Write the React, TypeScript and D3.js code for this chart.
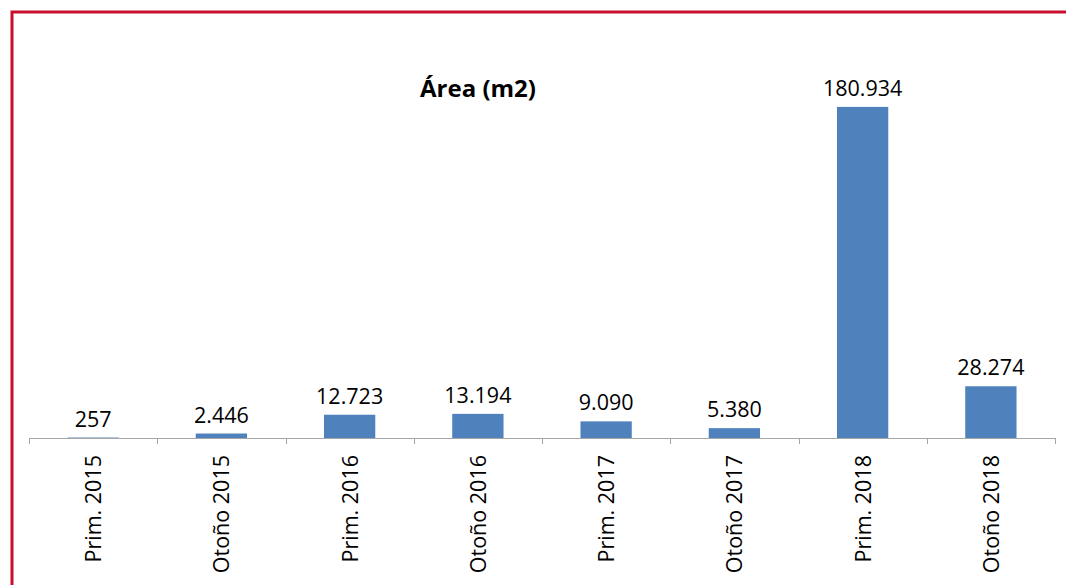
import React from "react";
import * as d3 from "d3";

const categories = ["Prim. 2015", "Otoño 2015", "Prim. 2016", "Otoño 2016", "Prim. 2017", "Otoño 2017", "Prim. 2018", "Otoño 2018"];
const areaValues = [257, 2446, 12723, 13194, 9090, 5380, 180934, 28274];
const chartTitle = "Área (m2)";

const W = 1066;
const H = 585;
const fmt = d3.formatLocale({ decimal: ",", thousands: ".", grouping: [3], currency: ["", "€"] }).format(",d");

export default function App() {
  const x = d3.scaleBand<string>().domain(categories).range([29, 1055]).paddingInner(0.6).paddingOuter(0.3);
  const y = d3.scaleLinear().domain([0, 200000]).range([438, 72]);
  const x0 = 29;
  const tickXs = d3.range(categories.length + 1).map((i) => x0 + i * ((1055 - 29) / categories.length));
  const font = "'Open Sans', 'DejaVu Sans', sans-serif";
  return (
    <svg width={W} height={H} style={{ position: "absolute", left: 0, top: 0, background: "#fff" }}>
      <rect x={12} y={12} width={W + 20} height={H + 20} fill="none" stroke="#C8102E" strokeWidth={3} />
      <text x={478} y={97} textAnchor="middle" fontFamily={font} fontWeight={700} fontSize={24} fill="#000">
        {chartTitle}
      </text>
      {categories.map((c, i) => {
        const bx = x(c)!;
        const bw = x.bandwidth();
        const v = areaValues[i];
        return (
          <g key={c}>
            <rect x={bx} y={y(v)} width={bw} height={y(0) - y(v)} fill="#4F81BD" />
            <text x={bx + bw / 2} y={y(v) - 11} textAnchor="middle" fontFamily={font} fontSize={21.5} fill="#000">
              {fmt(v)}
            </text>
            <text
              transform={`translate(${bx + bw / 2 + 8},455) rotate(-90)`}
              textAnchor="end"
              fontFamily={font}
              fontSize={21.5}
              fill="#000"
            >
              {c}
            </text>
          </g>
        );
      })}
      <line x1={29} x2={1055} y1={438.5} y2={438.5} stroke="#A6A6A6" strokeWidth={1} />
      {tickXs.map((t, i) => (
        <line key={i} x1={Math.round(t) + 0.5} x2={Math.round(t) + 0.5} y1={438} y2={444} stroke="#A6A6A6" strokeWidth={1} />
      ))}
    </svg>
  );
}
